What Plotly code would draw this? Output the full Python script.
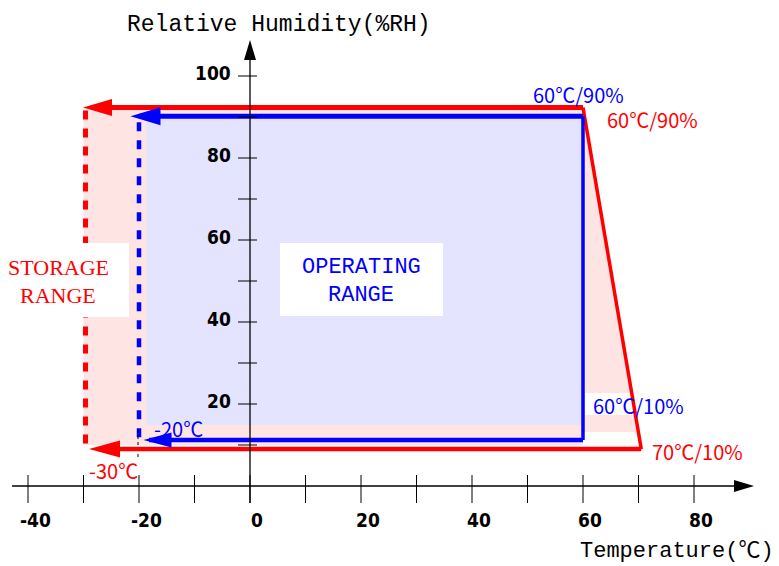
import plotly.graph_objects as go

# ---------------- data ----------------
x_tick_values = [-40, -30, -20, -10, 0, 10, 20, 30, 40, 50, 60, 70, 80]
x_label_values = [-40, -20, 0, 20, 40, 60, 80]
x_label_texts = ["-40", "-20", "0", "20", "40", "60", "80"]
y_tick_values = [10, 20, 30, 40, 50, 60, 70, 80, 90, 100]
y_label_values = [20, 40, 60, 80, 100]
y_label_texts = ["20", "40", "60", "80", "100"]

# storage range outline (temperature degC, relative humidity %)
storage_T = [-30, 60, 70.5, -30]
storage_RH = [92.3, 92.3, 9.0, 9.0]
# operating range outline
operating_T = [-20, 60, 60, -20]
operating_RH = [90.2, 90.2, 11.2, 11.2]

# ---------------- pixel helpers (style only) ----------------
W, H = 779, 566
PAGE_OFF = 8            # default body margin of the page
X0PX, XS = 250, 5.55    # screen px of 0 degC, px per degC
Y0PX, YS = 486, 4.1     # screen px of 0 %RH, px per %RH
def dx(p): return p / XS
def dy(p): return p / YS
def sx(px): return (px - X0PX) / XS
def sy(py): return (Y0PX - py) / YS
XR = [sx(PAGE_OFF), sx(PAGE_OFF + W)]
YR = [sy(PAGE_OFF + H), sy(PAGE_OFF)]

RED = "#FF0000"
BLUE = "#0000FF"
PINK = "#FFE4E4"
LAV = "#E4E4FF"

fig = go.Figure()

def poly(xs, ys, color):
    fig.add_trace(go.Scatter(x=xs + [xs[0]], y=ys + [ys[0]], mode="lines", fill="toself",
                             fillcolor=color, line=dict(width=0, color=color),
                             hoverinfo="skip", showlegend=False))

def seg(xs, ys, color, width, dash=None):
    fig.add_trace(go.Scatter(x=xs, y=ys, mode="lines",
                             line=dict(color=color, width=width, dash=dash),
                             hoverinfo="skip", showlegend=False))

def head_left(tip_x, y, length, half, color):
    xs = [tip_x, tip_x + dx(length), tip_x + dx(length), tip_x]
    ys = [y, y + dy(half), y - dy(half), y]
    poly(xs, ys, color)

sT_lo, sT_hi_top, sT_hi_bot = storage_T[0], storage_T[1], storage_T[2]
sRH_hi, sRH_lo = storage_RH[0], storage_RH[2]
oT_lo, oT_hi = operating_T[0], operating_T[1]
oRH_hi, oRH_lo = operating_RH[0], operating_RH[2]

# pink storage fill
pink_bot_right = oRH_lo + dy(8)
frac = (sRH_hi - pink_bot_right) / (sRH_hi - sRH_lo)
diag_x = sT_hi_top + frac * (sT_hi_bot - sT_hi_top) - dx(2)
poly([sT_lo, sT_hi_top, diag_x, oT_hi, oT_hi, sT_lo],
     [sRH_hi - dy(2), sRH_hi - dy(2), pink_bot_right, pink_bot_right, sRH_lo + dy(4), sRH_lo + dy(4)], PINK)

# lavender operating fill
lav_left = oT_lo + dx(7.5)
lav_bot = oRH_lo + dy(15)
poly([lav_left, oT_hi, oT_hi, lav_left], [oRH_hi, oRH_hi, lav_bot, lav_bot], LAV)

# red dashed storage limit
seg([sT_lo + dx(2), sT_lo + dx(2)], [sRH_hi - dy(3), sRH_lo + dy(1)], RED, 5, "9px,9px")

# white label boxes
def box(px0, px1, py0, py1):
    x0, x1 = sx(px0), sx(px1)
    y0, y1 = sy(py0), sy(py1)
    poly([x0, x1, x1, x0], [y0, y0, y1, y1], "#FFFFFF")

box(0, 129, 243, 317)
box(280, 443, 243, 316)
box(585, 690, 393, 415)

# blue dashed operating limit
seg([oT_lo, oT_lo], [oRH_hi - dy(6), oRH_lo + dy(2)], BLUE, 4.5, "9px,9px")
# thin black guide below -20
seg([oT_lo - dx(1), oT_lo - dx(1)], [oRH_lo + dy(10), oRH_lo - dy(18)], "#000000", 1, "3px,3px")

# storage outline
seg([sT_lo + dx(10), sT_hi_top], [sRH_hi, sRH_hi], RED, 5)
seg([sT_hi_top, sT_hi_bot], [sRH_hi, sRH_lo], RED, 3.5)
seg([sT_hi_bot, sT_lo + dx(15)], [sRH_lo, sRH_lo], RED, 4.5)
head_left(sT_lo - dx(0.5), sRH_hi, 29, 8.5, RED)
head_left(sT_lo + dx(5.5), sRH_lo, 31, 8.5, RED)

# operating outline
seg([oT_lo, oT_hi], [oRH_hi, oRH_hi], BLUE, 5)
seg([oT_hi, oT_hi], [oRH_hi, oRH_lo], BLUE, 3.5)
seg([oT_hi, oT_lo + dx(10)], [oRH_lo, oRH_lo], BLUE, 4.5)
head_left(oT_lo - dx(8.5), oRH_hi, 30, 9, BLUE)
head_left(oT_lo + dx(4.5), oRH_lo, 28, 7.5, BLUE)

# ---------------- axes ----------------
x_axis_lo, x_axis_tip = sx(12), sx(754)
y_axis_lo, y_axis_tip = sy(503), sy(40)
seg([x_axis_lo, x_axis_tip - dx(19)], [0, 0], "#000000", 1.3)
poly([x_axis_tip, x_axis_tip - dx(20), x_axis_tip - dx(20)], [0, dy(6), -dy(6)], "#000000")
seg([0, 0], [y_axis_lo, y_axis_tip - dy(19)], "#000000", 1.3)
poly([0, dx(6), -dx(6)], [y_axis_tip, y_axis_tip - dy(20), y_axis_tip - dy(20)], "#000000")

# x ticks
tx, ty = [], []
for v in x_tick_values:
    tx += [v, v, None]
    ty += [dy(11), -dy(17), None]
fig.add_trace(go.Scatter(x=tx, y=ty, mode="lines", line=dict(color="#000000", width=1),
                         hoverinfo="skip", showlegend=False))
# y ticks
tx, ty = [], []
for v in y_tick_values:
    tx += [-dx(12), dx(7), None]
    ty += [v, v, None]
fig.add_trace(go.Scatter(x=tx, y=ty, mode="lines", line=dict(color="#000000", width=1),
                         hoverinfo="skip", showlegend=False))

ann = []
TICKFONT = dict(family="DejaVu Sans Condensed, Liberation Sans Narrow, Liberation Sans", size=19,
                color="#000000", weight="bold")
for v, t in zip(x_label_values, x_label_texts):
    ann.append(dict(x=v, y=-dy(34), text=t, showarrow=False, xshift=7, font=TICKFONT,
                    xanchor="center", yanchor="middle"))
for v, t in zip(y_label_values, y_label_texts):
    ann.append(dict(x=-dx(17), y=v, text=t, showarrow=False, yshift=3, font=TICKFONT,
                    xanchor="right", yanchor="middle"))

MONO = "Liberation Mono, Noto Sans CJK JP"
ann.append(dict(x=sx(125), y=sy(25), text="Relative Humidity(%RH)", showarrow=False,
                xanchor="left", yanchor="middle", font=dict(family=MONO, size=23, color="#000000")))
ann.append(dict(x=sx(776), y=sy(551), text="Temperature(℃)", showarrow=False,
                xanchor="right", yanchor="middle", font=dict(family=MONO, size=22, color="#000000")))

SERIF = "Liberation Serif, DejaVu Serif"
ann.append(dict(x=sx(58), y=sy(267), text="STORAGE", showarrow=False, font=dict(family=SERIF, size=22, color=RED)))
ann.append(dict(x=sx(58), y=sy(295), text="RANGE", showarrow=False, font=dict(family=SERIF, size=22, color=RED)))
ann.append(dict(x=sx(361), y=sy(267), text="OPERATING", showarrow=False, font=dict(family=MONO, size=22, color=BLUE)))
ann.append(dict(x=sx(361), y=sy(295), text="RANGE", showarrow=False, font=dict(family=MONO, size=22, color=BLUE)))

LBL = "Noto Sans CJK JP"
ann.append(dict(x=sx(578), y=sy(94), text="60℃/90%", showarrow=False, font=dict(family=LBL, size=20, color=BLUE)))
ann.append(dict(x=sx(652), y=sy(119), text="60℃/90%", showarrow=False, font=dict(family=LBL, size=20, color=RED)))
ann.append(dict(x=sx(638), y=sy(405), text="60℃/10%", showarrow=False, font=dict(family=LBL, size=20, color=BLUE)))
ann.append(dict(x=sx(697), y=sy(451), text="70℃/10%", showarrow=False, font=dict(family=LBL, size=20, color=RED)))
ann.append(dict(x=sx(178), y=sy(428), text="-20℃", showarrow=False, font=dict(family=LBL, size=20, color=BLUE)))
ann.append(dict(x=sx(113), y=sy(470), text="-30℃", showarrow=False, font=dict(family=LBL, size=20, color=RED)))

fig.update_layout(
    width=W, height=H, margin=dict(l=0, r=0, t=0, b=0),
    paper_bgcolor="#FFFFFF", plot_bgcolor="#FFFFFF",
    xaxis=dict(range=XR, visible=False, fixedrange=True),
    yaxis=dict(range=YR, visible=False, fixedrange=True),
    annotations=ann, showlegend=False,
)
fig.write_html("out.html")
